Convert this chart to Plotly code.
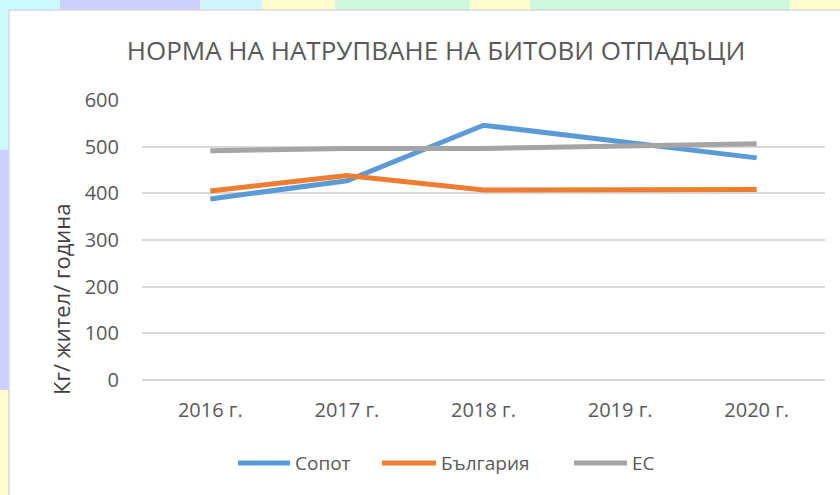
import plotly.graph_objects as go

years = ["2016 г.", "2017 г.", "2018 г.", "2019 г.", "2020 г."]
sopot = [388, 427, 546, 511, 476]
bulgaria = [405, 438, 407, 408, 408]
eu = [491, 496, 496, 501, 506]
series_names = ["Сопот", "България", "ЕС"]
series_colors = ["#5B9BD5", "#ED7D31", "#A5A5A5"]

title_text = "НОРМА НА НАТРУПВАНЕ НА БИТОВИ ОТПАДЪЦИ"
y_title = "Кг/ жител/ година"

W, H = 840, 495
L, R, T, B = 142, 15, 100, 115
PW, PH = W - L - R, H - T - B


def px(x):
    return (x - L) / PW


def py(y):
    return (H - B - y) / PH


fig = go.Figure()
for name, vals, col in zip(series_names, [sopot, bulgaria, eu], series_colors):
    fig.add_trace(go.Scatter(x=years, y=vals, name=name, mode="lines", showlegend=False,
                             line=dict(color=col, width=5)))

# background strips (document page behind the chart)
strips = [
    (0, 0, 60, 10, "#C8FAFF"), (60, 0, 200, 10, "#CCD0FF"), (200, 0, 262, 10, "#CFF4FF"),
    (262, 0, 335, 10, "#FFFDCC"), (335, 0, 470, 10, "#CDF7DF"), (470, 0, 530, 10, "#FFFDCC"),
    (530, 0, 790, 10, "#CDF7DF"), (790, 0, 840, 10, "#FFFDCC"),
    (0, 10, 9, 150, "#C8FAFF"), (0, 150, 9, 390, "#CCD0FF"), (0, 390, 9, 495, "#FFFDCC"),
]
shapes = []
for x0, y0, x1, y1, c in strips:
    shapes.append(dict(type="rect", xref="paper", yref="paper", x0=px(x0), x1=px(x1),
                       y0=py(y1), y1=py(y0), fillcolor=c, line=dict(width=0), layer="below"))
shapes.append(dict(type="rect", xref="paper", yref="paper", x0=px(9), x1=px(845),
                   y0=py(500), y1=py(10), fillcolor="white",
                   line=dict(color="#D9D9D9", width=1.5), layer="below"))

# legend (drawn manually to match the swatch length)
legend_items = [(238, 290, 293), (382, 436, 439), (574, 627, 630)]
annotations = []
ly = py(463)
for (x0, x1, tx), name, col in zip(legend_items, series_names, series_colors):
    shapes.append(dict(type="line", xref="paper", yref="paper", x0=px(x0), x1=px(x1),
                       y0=ly, y1=ly, line=dict(color=col, width=5)))
    annotations.append(dict(text=name, xref="paper", yref="paper", x=px(tx), y=ly,
                            xanchor="left", yanchor="middle", showarrow=False,
                            font=dict(size=19, color="#595959")))

annotations.append(dict(text=y_title, xref="paper", yref="paper", x=px(61), y=py(300),
                        textangle=-90, showarrow=False, xanchor="center", yanchor="middle",
                        font=dict(size=22, color="#404040")))

fig.update_layout(
    width=W, height=H,
    margin=dict(l=L, r=R, t=T, b=B),
    paper_bgcolor="#CCD0FF",
    plot_bgcolor="white",
    font=dict(family="Open Sans", color="#595959", size=16),
    shapes=shapes,
    annotations=annotations,
    showlegend=False,
    title=dict(text=title_text, x=436 / W, xref="container", xanchor="center",
               y=1 - 51 / H, yanchor="middle",
               font=dict(family="Open Sans", size=26, color="#595959")),
    xaxis=dict(showgrid=False, showline=False, zeroline=False, ticks="",
               tickfont=dict(size=20, color="#595959"), ticklabelstandoff=16,
               range=[-0.5, 4.5]),
    yaxis=dict(range=[0, 600], dtick=100, showgrid=True, gridcolor="#D9D9D9", gridwidth=1.5,
               zeroline=True, zerolinecolor="#D9D9D9", zerolinewidth=1.5, showline=False,
               ticks="", tickfont=dict(size=20, color="#595959"), ticklabelstandoff=22),
)

fig.write_html("out.html")
